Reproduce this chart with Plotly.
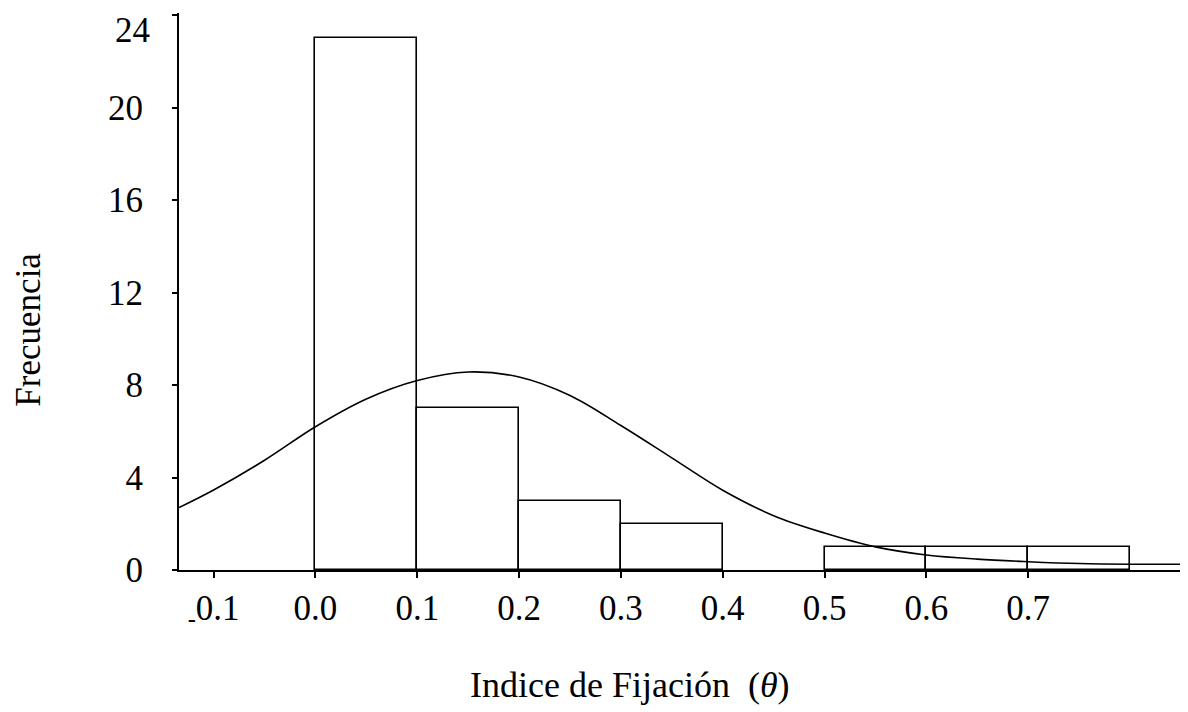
import plotly.graph_objects as go

# Histogram bins (lower edge) and counts
bin_starts = [0.0, 0.1, 0.2, 0.3, 0.5, 0.6, 0.7]
counts = [23, 7, 3, 2, 1, 1, 1]
bin_width = 0.1

# Fitted normal curve
curve_x = [-0.134, -0.1, -0.05, 0.0, 0.05, 0.1, 0.15, 0.2, 0.25, 0.3, 0.35,
           0.4, 0.45, 0.5, 0.55, 0.6, 0.65, 0.7, 0.75, 0.8, 0.853]
curve_y = [2.7, 3.46, 4.75, 6.2, 7.4, 8.2, 8.57, 8.35, 7.55, 6.25, 4.85,
           3.45, 2.35, 1.6, 1.0, 0.65, 0.47, 0.36, 0.28, 0.25, 0.25]

x_tickvals = [-0.1, 0.0, 0.1, 0.2, 0.3, 0.4, 0.5, 0.6, 0.7]
x_ticktext = ["<sub>-</sub>0.1", "0.0", "0.1", "0.2", "0.3", "0.4", "0.5", "0.6", "0.7"]
y_tickvals = [0, 4, 8, 12, 16, 20, 24]
y_ticktext = ["0", "4", "8", "12", "16", "20", ""]  # top label placed below its tick
y_top_label = "24"

FONT = "Liberation Serif"

fig = go.Figure()
fig.add_trace(go.Bar(
    x=[s + bin_width / 2 for s in bin_starts], y=counts, width=bin_width,
    marker=dict(color="white", line=dict(color="black", width=1.6)),
    showlegend=False,
))
fig.add_trace(go.Scatter(
    x=curve_x, y=curve_y, mode="lines", line=dict(color="black", width=1.6, shape="spline"),
    showlegend=False,
))

fig.update_layout(
    width=1180, height=704,
    margin=dict(l=171, r=4, t=5, b=142),
    plot_bgcolor="white", paper_bgcolor="white",
    font=dict(family=FONT, size=35, color="black"),
    bargap=0,
    xaxis=dict(
        range=[-0.134, 0.853], showgrid=False, zeroline=False, automargin=False,
        showline=True, linecolor="black", linewidth=2,
        tickmode="array", tickvals=x_tickvals, ticktext=x_ticktext,
        ticks="outside", ticklen=6, tickcolor="black", tickwidth=2,
        ticklabelstandoff=0, ticklabeloverflow="allow",
        tickfont=dict(family=FONT, size=35),
    ),
    yaxis=dict(
        range=[0, 24.1], showgrid=False, zeroline=False, automargin=False,
        showline=True, linecolor="black", linewidth=2,
        tickmode="array", tickvals=y_tickvals, ticktext=y_ticktext,
        ticks="outside", ticklen=5, tickcolor="black", tickwidth=2,
        ticklabelstandoff=22, ticklabeloverflow="allow",
        tickfont=dict(family=FONT, size=35),
    ),
    annotations=[
        dict(text=y_top_label, xref="paper", yref="y", x=0, xshift=-27, y=y_tickvals[-1],
             yshift=-15, showarrow=False, xanchor="right", yanchor="middle",
             font=dict(family=FONT, size=35)),
        dict(text="Indice de Fijación  (<i>θ</i>)", xref="x", yref="paper",
             x=0.309, y=0, yshift=-115, showarrow=False,
             font=dict(family=FONT, size=36), xanchor="center", yanchor="middle"),
        dict(text="Frecuencia", xref="paper", yref="y", x=0, xshift=-150, y=10.4,
             textangle=-90, showarrow=False,
             font=dict(family=FONT, size=35), xanchor="center", yanchor="middle"),
    ],
)

fig.write_html("out.html")
